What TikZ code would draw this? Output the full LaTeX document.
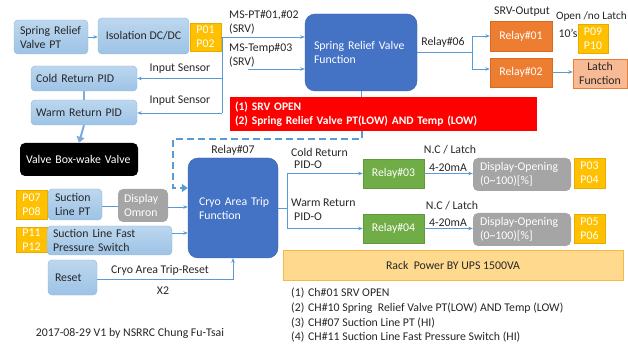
\documentclass[tikz,border=0pt]{standalone}
\usepackage{fontspec}
\setmainfont{Carlito}
\usetikzlibrary{arrows.meta,calc}
\definecolor{lbT}{HTML}{BDD7EE}
\definecolor{lbB}{HTML}{9DC3E6}
\definecolor{lbD}{HTML}{8FB4E0}
\definecolor{txt}{HTML}{262626}
\definecolor{ybF}{HTML}{FFC000}
\definecolor{ybD}{HTML}{E6AC00}
\definecolor{fnB}{HTML}{4472C4}
\definecolor{fnD}{HTML}{3A62AC}
\definecolor{orF}{HTML}{ED7D31}
\definecolor{orD}{HTML}{D9691C}
\definecolor{grF}{HTML}{70AD47}
\definecolor{grD}{HTML}{5E9A38}
\definecolor{gyF}{HTML}{A5A5A5}
\definecolor{ltF}{HTML}{F8B995}
\definecolor{rkF}{HTML}{FFD98E}
\definecolor{rkD}{HTML}{F5B944}
\definecolor{ac}{HTML}{5B9BD5}
\definecolor{thk}{HTML}{7FAADD}
\begin{document}
\begin{tikzpicture}[x=1pt,y=-1pt,font=\fontsize{11.8}{14}\selectfont,
  lbox/.style={draw=lbD,top color=lbT,bottom color=lbB,rounded corners=4pt,text=txt,inner ysep=0pt,align=left},
  ybox/.style={draw=ybD,fill=ybF,text=white,inner sep=0pt,align=center},
  fbox/.style={draw=fnD,fill=fnB,rounded corners=10pt,text=white,inner ysep=0pt,align=left},
  obox/.style={draw=orD,fill=orF,text=white,inner sep=0pt,align=center},
  gbox/.style={draw=grD,fill=grF,text=white,inner sep=0pt,align=center},
  gybox/.style={fill=gyF,rounded corners=5pt,text=white,inner ysep=0pt,align=left},
  lbl/.style={text=txt,inner sep=0pt},
  arr/.style={draw=ac,line width=0.8pt,-{Stealth[length=4.5pt,width=3.5pt]}},
  ln/.style={draw=ac,line width=0.8pt}]
\useasboundingbox (0,0) rectangle (628,344);

% boxes
\node[lbox,minimum height=34pt,inner xsep=6pt,text width=62pt] (srvpt) at (51,37) {\mbox{Spring Relief}\\\mbox{Valve PT}};
\node[lbox,minimum width=91pt,minimum height=36pt,align=center] (iso) at (143.5,36) {Isolation DC/DC};
\node[ybox,minimum width=31pt,minimum height=28pt] (p0102) at (205.5,37) {P01\\P02};
\node[lbox,minimum height=25pt,inner xsep=5pt,text width=96pt] (cold) at (84,78.5) {Cold Return PID};
\node[lbox,minimum height=25pt,inner xsep=5pt,text width=96pt] (warm) at (84,112.5) {Warm Return PID};
\node[fill=black,rounded corners=5pt,text=white,minimum height=33pt,inner xsep=6pt,inner ysep=0pt,text width=106pt] (valve) at (79,159.5) {Valve Box-wake Valve};
\node[fbox,minimum height=77pt,inner xsep=9pt,text width=94pt] (srvf) at (361,52.5) {\mbox{Spring Relief Valve}\\Function};
\node[obox,minimum width=62pt,minimum height=30pt] (r01) at (521,36) {Relay\#01};
\node[obox,minimum width=62pt,minimum height=29pt] (r02) at (521,72.5) {Relay\#02};
\node[ybox,minimum width=30pt,minimum height=29pt] (p0910) at (593,38.5) {P09\\P10};
\node[draw=orF,fill=ltF,text=txt,inner sep=0pt,align=center,minimum width=54pt,minimum height=29pt] (latch) at (600,73.5) {Latch\\Function};
\node[fill=red,text=white,font=\fontsize{11.5}{14}\selectfont\bfseries,minimum height=34pt,inner xsep=5pt,inner ysep=0pt,text width=297pt,align=left] (red) at (383.5,114) {(1) SRV OPEN\\(2) Spring Relief Valve PT(LOW) AND Temp (LOW)};
\node[fbox,minimum height=100pt,inner xsep=11pt,text width=68pt] (cryo) at (233,208) {\mbox{Cryo Area Trip}\\Function};
\node[ybox,minimum width=31pt,minimum height=29pt] (p0708) at (31.5,204.5) {P07\\P08};
\node[lbox,minimum height=31pt,inner xsep=7pt,text width=40pt] (suct) at (75,204.5) {Suction\\Line PT};
\node[gybox,minimum height=33pt,inner xsep=6pt,text width=38pt] (omron) at (143,205.5) {Display\\Omron};
\node[ybox,minimum width=31pt,minimum height=25pt] (p1112) at (31.5,239.5) {P11\\P12};
\node[lbox,minimum height=29pt,inner xsep=6pt,text width=113pt] (fast) at (109.5,240.5) {Suction Line Fast\\Pressure Switch};
\node[lbox,minimum height=35pt,inner xsep=7pt,text width=35pt] (reset) at (72.5,277.5) {Reset};
\node[gbox,minimum width=61pt,minimum height=29pt] (r03) at (393.5,173.5) {Relay\#03};
\node[gbox,minimum width=61pt,minimum height=29pt] (r04) at (393.5,228.5) {Relay\#04};
\node[gybox,minimum height=33pt,inner xsep=7pt,text width=84pt] (d1) at (522,174.5) {\mbox{Display-Opening}\\(0\textasciitilde100)[\%]};
\node[gybox,minimum height=33pt,inner xsep=7pt,text width=84pt] (d2) at (522,229.5) {\mbox{Display-Opening}\\(0\textasciitilde100)[\%]};
\node[ybox,minimum width=31pt,minimum height=30pt] (p0304) at (589.5,173) {P03\\P04};
\node[ybox,minimum width=31pt,minimum height=29pt] (p0506) at (589.5,228.5) {P05\\P06};
\node[draw=rkD,fill=rkF,text=txt,minimum width=340pt,minimum height=30pt,inner sep=0pt] (rack) at (453,265) {Rack\ \ Power BY UPS 1500VA};

% connectors
\draw[arr] (srvpt.east) -- (srvpt.east -| iso.west);
\coordinate (bt) at (222,37);
\coordinate (bb) at (222,113);
\draw[arr] (p0102.east) -- (p0102.east -| srvf.west);
\draw[ln] (bt) -- (bb);
\draw[arr] (bt |- cold.east) -- (cold.east);
\draw[arr] (bb) -- (bb -| warm.east);
\coordinate (mst) at (248,69);
\draw[arr] (mst) -- (mst -| srvf.west);
\draw[draw=thk,line width=1.2pt] (cold.south) -- (warm.north);
\draw[draw=thk,line width=2pt,-{Triangle[length=6pt,width=8pt]}] (warm.south) -- (valve.north);
\coordinate (sj) at (472,52.5);
\draw[ln] (srvf.east |- sj) -- (sj);
\draw[arr] (sj) |- (r01.west);
\draw[arr] (sj) |- ([yshift=3.5pt]r02.west);
\draw[arr] ([yshift=0.5pt]r02.east) -- ([yshift=0.5pt]r02.east -| latch.west);
\draw[ln] (srvf.south) -- (srvf.south |- red.north);
\coordinate (q1) at (362,139);
\coordinate (q2) at (173,139);
\coordinate (q3) at (173,188);
\draw[draw=ac,line width=2.2pt,dash pattern=on 7pt off 4pt,-{Triangle[length=6pt,width=8pt]}] (red.south -| q1) -- (q1) -- (q2) -- (q3) -- (q3 -| cryo.west);
\draw[ln] ([yshift=-1.5pt]suct.east) -- ([yshift=-1.5pt]suct.east -| omron.west);
\draw[arr] ([yshift=-1.5pt]omron.east) -- ([yshift=-1.5pt]omron.east -| cryo.west);
\draw[arr] ([yshift=7.5pt]fast.east) -- ([yshift=7.5pt]fast.east -| cryo.west);
\draw[arr] ([yshift=-1.5pt]reset.east) -| (cryo.south);
\coordinate (cj) at (287,208);
\draw[ln] (cryo.east) -- (cj);
\draw[arr] (cj) |- (r03.west);
\draw[arr] (cj) |- (r04.west);
\draw[arr] (r03.east) -- (r03.east -| d1.west);
\draw[arr] (r04.east) -- (r04.east -| d2.west);

% labels
\node[lbl,anchor=west,align=left] (ms1) at (229,22) {MS-PT\#01,\#02\\(SRV)};
\node[lbl,anchor=west,align=left] (ms2) at (229,55) {MS-Temp\#03\\(SRV)};
\node[lbl] (is1) at (180,69) {Input Sensor};
\node[lbl] (is2) at (180,101) {Input Sensor};
\node[lbl] (r06) at (443,42) {Relay\#06};
\node[lbl] (srvo) at (522,12) {SRV-Output};
\node[lbl,anchor=east,font=\fontsize{11.3}{14}\selectfont] (onl) at (627,16) {Open /no Latch};
\node[lbl] (tens) at (568,33) {10’s};
\node[lbl] (r07) at (233,150) {Relay\#07};
\node[lbl,anchor=west] (cr1) at (291,152) {Cold Return};
\node[lbl,anchor=west] (cr2) at (294,165) {PID-O};
\node[lbl,anchor=west] (wr1) at (291,203) {Warm Return};
\node[lbl,anchor=west] (wr2) at (294,217) {PID-O};
\node[lbl] (nc1) at (450,150) {N.C / Latch};
\node[lbl] (nc2) at (452,206) {N.C / Latch};
\node[lbl] (ma1) at (448,168) {4-20mA};
\node[lbl] (ma2) at (448,223) {4-20mA};
\node[lbl] (rst) at (160,270) {Cryo Area Trip-Reset};
\node[lbl] (x2) at (163,291) {X2};
\node[lbl] (foot) at (130,333) {2017-08-29 V1 by NSRRC Chung Fu-Tsai};
\node[lbl,anchor=west] (l1) at (291,293) {\makebox[17pt][l]{(1)}Ch\#01 SRV OPEN};
\node[lbl,anchor=west] (l2) at (291,308) {\makebox[17pt][l]{(2)}CH\#10 Spring\ \ Relief Valve PT(LOW) AND Temp (LOW)};
\node[lbl,anchor=west] (l3) at (291,323) {\makebox[17pt][l]{(3)}CH\#07 Suction Line PT (HI)};
\node[lbl,anchor=west] (l4) at (291,337) {\makebox[17pt][l]{(4)}CH\#11 Suction Line Fast Pressure Switch (HI)};
\end{tikzpicture}
\end{document}
